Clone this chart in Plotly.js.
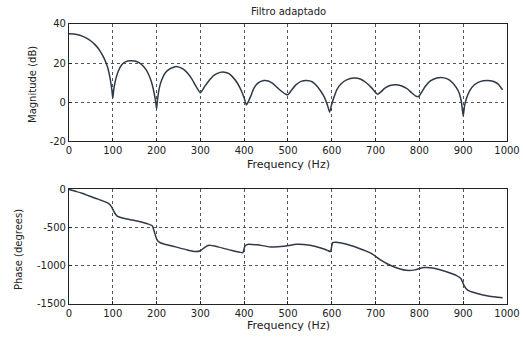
<!DOCTYPE html>
<html><head><meta charset="utf-8">
<script src="https://cdn.plot.ly/plotly-3.0.1.min.js"></script>
<style>html,body{margin:0;padding:0;background:#fff;}#c{width:523px;height:338px;}</style>
</head><body><div id="c"></div>
<script>
const chartTitle = "Filtro adaptado";
const xLabel = "Frequency (Hz)";
const magLabel = "Magnitude (dB)";
const phaseLabel = "Phase (degrees)";

const magFreq = [0,10,20,30,40,50,60,70,80,88,94,98,100,102,106,112,120,130,140,150,160,170,180,188,194,198,200,202,206,212,220,230,245,260,270,280,290,300,310,320,330,345,355,365,375,385,393,400,405,410,415,422,432,445,455,465,475,485,495,500,508,518,530,543,555,565,575,583,590,595,600,605,612,622,635,650,665,678,690,700,705,712,722,735,748,760,772,782,792,798,805,814,825,840,852,865,875,884,891,896,900,903,907,914,925,940,955,968,980,990];
const magDb   = [35,34.9,34.5,33.8,32.8,31.3,29.3,26.5,22.5,18,12,6,2,6,11,15.5,19,20.7,21.2,21,20.2,18.3,15,10.5,5,0,-3.5,1,7,11.5,15,17,18.2,17,15,12,8,4.7,8,11,13.5,15.2,15.3,14.5,12.5,9.5,6,2,-1.5,0.5,3,7,9.8,11,10.8,9.5,7.5,5.5,4,3.8,6,8.8,10.6,11,10.4,8.5,5.5,2.5,-1.5,-5.2,-1,2.5,6.5,9.5,11.5,12.3,11.8,10,7.5,4.8,4,5.2,7.2,8.6,8.8,8.2,6.8,4.8,3,2.8,5,8.2,10.8,12.3,12.5,11.7,10,7.5,4.5,0,-7.2,-2,1.5,5.5,8.7,10.6,11,10.6,9.2,6.2];

const phFreq = [0,15,30,45,60,75,90,97,103,110,120,140,160,180,190,195,200,205,215,240,270,290,300,310,320,340,370,390,397,402,410,430,460,490,520,550,575,590,597,602,610,630,660,690,710,740,770,790,810,830,860,885,895,902,910,930,960,990];
const phDeg  = [-5,-30,-56,-88,-120,-150,-186,-230,-300,-355,-375,-400,-425,-455,-480,-560,-650,-690,-715,-750,-795,-815,-805,-760,-735,-755,-800,-825,-830,-740,-720,-728,-755,-748,-722,-735,-770,-800,-815,-700,-695,-715,-770,-840,-920,-1010,-1060,-1055,-1025,-1030,-1075,-1130,-1170,-1260,-1320,-1360,-1400,-1420];

const xTicks = [0,100,200,300,400,500,600,700,800,900,1000];
const magTicks = [-20,0,20,40];
const phTicks = [-1500,-1000,-500,0];

const lineColor = "#2f3a46";
const fam = "DejaVu Sans, Arial, sans-serif";
const tickFont = {family:fam, size:10, color:"#222"};

const axBase = {
  showline:true, linecolor:"#222", linewidth:1, mirror:true,
  showgrid:true, gridcolor:"#555", griddash:"dot", gridwidth:1,
  ticks:"inside", ticklen:3, tickcolor:"#222", zeroline:false,
  tickfont:tickFont, automargin:false, fixedrange:true
};

const traces = [
  {x:magFreq, y:magDb, type:"scatter", mode:"lines", line:{color:lineColor, width:1.5, shape:"spline", smoothing:0.5}, xaxis:"x", yaxis:"y", hoverinfo:"skip"},
  {x:phFreq, y:phDeg, type:"scatter", mode:"lines", line:{color:lineColor, width:1.5, shape:"spline", smoothing:0.5}, xaxis:"x2", yaxis:"y2", hoverinfo:"skip"}
];

function ann(text, x, y, size, angle) {
  return {text:text, xref:"paper", yref:"paper", x:x/523, y:1-y/338, xanchor:"center", yanchor:"middle",
          showarrow:false, textangle:angle||0, font:{family:fam, size:size, color:"#222"}};
}

const layout = {
  width:523, height:338, margin:{l:0,r:0,t:0,b:0},
  paper_bgcolor:"#fff", plot_bgcolor:"#fff", showlegend:false, font:tickFont,
  xaxis:Object.assign({}, axBase, {domain:[0.1319,0.9694], range:[0,1000], tickvals:xTicks, ticktext:xTicks.map(String), anchor:"y"}),
  yaxis:Object.assign({}, axBase, {domain:[0.5828,0.929], range:[-20,40], tickvals:magTicks, ticktext:magTicks.map(String), anchor:"x"}),
  xaxis2:Object.assign({}, axBase, {domain:[0.1319,0.9694], range:[0,1000], tickvals:xTicks, ticktext:xTicks.map(String), anchor:"y2"}),
  yaxis2:Object.assign({}, axBase, {domain:[0.1006,0.4408], range:[-1500,0], tickvals:phTicks, ticktext:phTicks.map(String), anchor:"x2"}),
  annotations:[
    ann(chartTitle, 288, 12, 10),
    ann(xLabel, 288, 165, 11),
    ann(xLabel, 288, 325, 11),
    ann(magLabel, 32, 85, 10, -90),
    ann(phaseLabel, 18, 250, 10, -90)
  ]
};

Plotly.newPlot("c", traces, layout, {displayModeBar:false, staticPlot:true});
</script></body></html>
